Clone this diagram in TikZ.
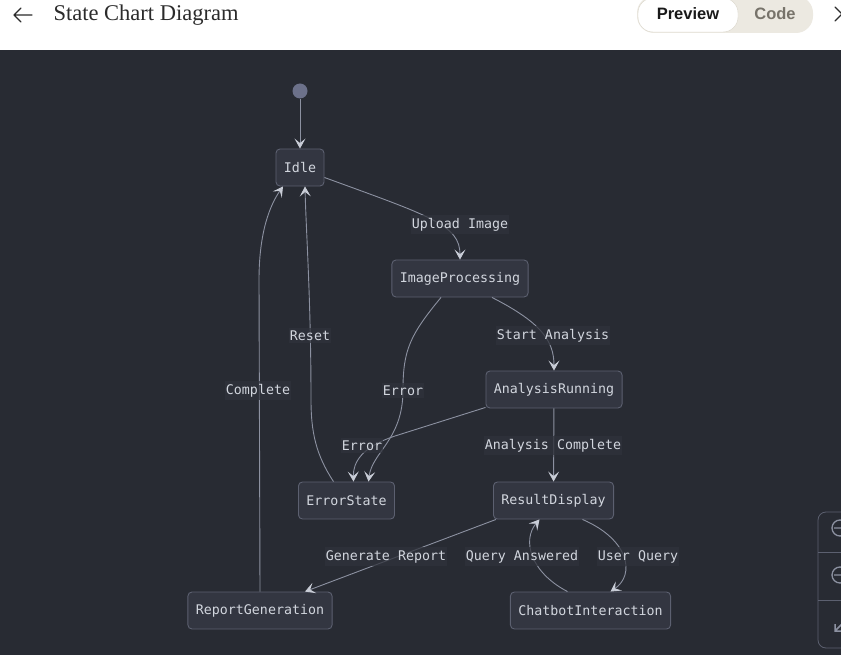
\documentclass[tikz,border=0pt]{standalone}
\usepackage{fontspec}
\setmainfont{Liberation Serif}
\setsansfont{Liberation Sans}
\setmonofont{DejaVu Sans Mono}
\usetikzlibrary{arrows.meta}
\definecolor{canvas}{HTML}{282B33}
\definecolor{boxfill}{HTML}{333641}
\definecolor{boxline}{HTML}{5C6070}
\definecolor{ink}{HTML}{D2D6DE}
\definecolor{wire}{HTML}{8C91A1}
\definecolor{tipgrey}{HTML}{C8CCD6}
\definecolor{tagfill}{HTML}{30333C}
\definecolor{dotgrey}{HTML}{6C718A}
\definecolor{pill}{HTML}{ECE9E1}
\definecolor{pillline}{HTML}{DAD6CB}
\definecolor{headink}{HTML}{2B2B2B}
\definecolor{codegrey}{HTML}{77736A}

\begin{document}
\begin{tikzpicture}[x={(1pt,0)},y={(0,-1pt)},
  state/.style={draw=boxline,fill=boxfill,rounded corners=4pt,line width=0.9pt,
    minimum height=37pt,inner xsep=8pt,text=ink,font=\ttfamily\fontsize{13.3}{15}\selectfont},
  tag/.style={fill=tagfill,fill opacity=0.75,text opacity=1,text=ink,inner xsep=1pt,inner ysep=3pt,
    font=\ttfamily\fontsize{13.3}{15}\selectfont},
  edge/.style={draw=wire,line width=0.9pt,-{Stealth[length=10pt,width=11pt,inset=4.5pt,color=tipgrey]}}]
  \useasboundingbox (0,0) rectangle (841,655);
  \clip (0,0) rectangle (841,655);
  % header bar
  \fill[white] (0,0) rectangle (841,50);
  \fill[canvas] (0,50) rectangle (841,655);
  \draw[headink,line width=1.3pt,line cap=round,line join=round]
    (32,15) -- (14,15) (21,8) -- (14,15) -- (21,22);
  \node[anchor=west,text=headink,font=\fontsize{22.5}{25}\selectfont] (title) at (50,15) {State Chart Diagram};
  \fill[pill,rounded corners=17pt] (637,-4) rectangle (813,33);
  \draw[pillline,fill=white,rounded corners=15pt] (638,-2) rectangle (738,32);
  \node[text=black!90,font=\sffamily\bfseries\fontsize{16.5}{18}\selectfont] (preview) at (688,14) {Preview};
  \node[text=codegrey,font=\sffamily\bfseries\fontsize{16.5}{18}\selectfont] (code) at (775,14) {Code};
  \draw[headink,line width=1.3pt,line cap=round] (835,7) -- (842,14) -- (835,21);
  % zoom controls at the right edge
  \draw[boxline,line width=0.8pt,rounded corners=8pt] (818,512) rectangle (870,648);
  \draw[boxline,line width=0.8pt] (818,552) -- (841,552) (818,600) -- (841,600);
  \draw[wire,line width=1.3pt] (840,528) circle (8) (834,528) -- (846,528)
    (840,575) circle (8) (834,575) -- (846,575);
  \draw[wire,line width=1.5pt] (843,623) -- (835,631) (835,624) -- (835,631) -- (842,631);

  % states
  \node[circle,fill=dotgrey,minimum size=15pt,inner sep=0pt] (start) at (300,91) {};
  \node[state] (idle) at (300,167.5) {Idle};
  \node[state] (imgproc) at (460,278.5) {ImageProcessing};
  \node[state] (anrun) at (554,389.5) {AnalysisRunning};
  \node[state] (errst) at (346.5,500.5) {ErrorState};
  \node[state] (resdisp) at (553.5,500.5) {ResultDisplay};
  \node[state] (repgen) at (260,610.5) {ReportGeneration};
  \node[state] (chatbot) at (590.5,610.5) {ChatbotInteraction};

  % transitions
  \draw[edge] (start) -- (idle);
  \draw[edge] ([yshift=-10pt]idle.east) .. controls (430,216) and (460,225) .. (imgproc.north);
  \draw[edge] ([xshift=-19pt]imgproc.south) .. controls (410,335) and (403,350) .. (403,390)
    .. controls (403,440) and (372,452) .. ([xshift=22pt]errst.north);
  \draw[edge] ([xshift=32pt]imgproc.south) .. controls (540,322) and (554,340) .. (anrun.north);
  \draw[edge] ([yshift=1pt]anrun.south west) -- (395,436) .. controls (362,447) and (353,462)
    .. ([xshift=7pt]errst.north);
  \draw[edge] (anrun) -- (resdisp);
  \draw[edge] ([xshift=-13pt]errst.north) .. controls (316,455) and (311,432) .. (311,400)
    .. controls (311,300) and (306,230) .. ([xshift=5pt]idle.south);
  \draw[edge] (repgen.north) -- (259,280) .. controls (259,232) and (270,205) .. ([xshift=-17pt]idle.south);
  \draw[edge] ([xshift=3pt]resdisp.south west) -- ([xshift=45pt]repgen.north);
  \draw[edge] ([xshift=29pt]resdisp.south) .. controls (630,540) and (635,575) .. ([xshift=20pt]chatbot.north);
  \draw[edge] ([xshift=-23pt]chatbot.north) .. controls (530,572) and (522,540) .. ([xshift=-14pt]resdisp.south);

  % transition labels
  \node[tag] (lupload) at (460,224.5) {Upload Image};
  \node[tag] (lstart) at (553,335.5) {Start Analysis};
  \node[tag] (lreset) at (310,335.5) {Reset};
  \node[tag] (lcomplete) at (258,390.5) {Complete};
  \node[tag] (lerrora) at (403,390.5) {Error};
  \node[tag] (lerrorb) at (362,445.5) {Error};
  \node[tag] (lancomp) at (553,445.5) {Analysis Complete};
  \node[tag] (lgenrep) at (386,556.5) {Generate Report};
  \node[tag] (lqans) at (522,556.5) {Query Answered};
  \node[tag] (luserq) at (638,556.5) {User Query};
\end{tikzpicture}
\end{document}
